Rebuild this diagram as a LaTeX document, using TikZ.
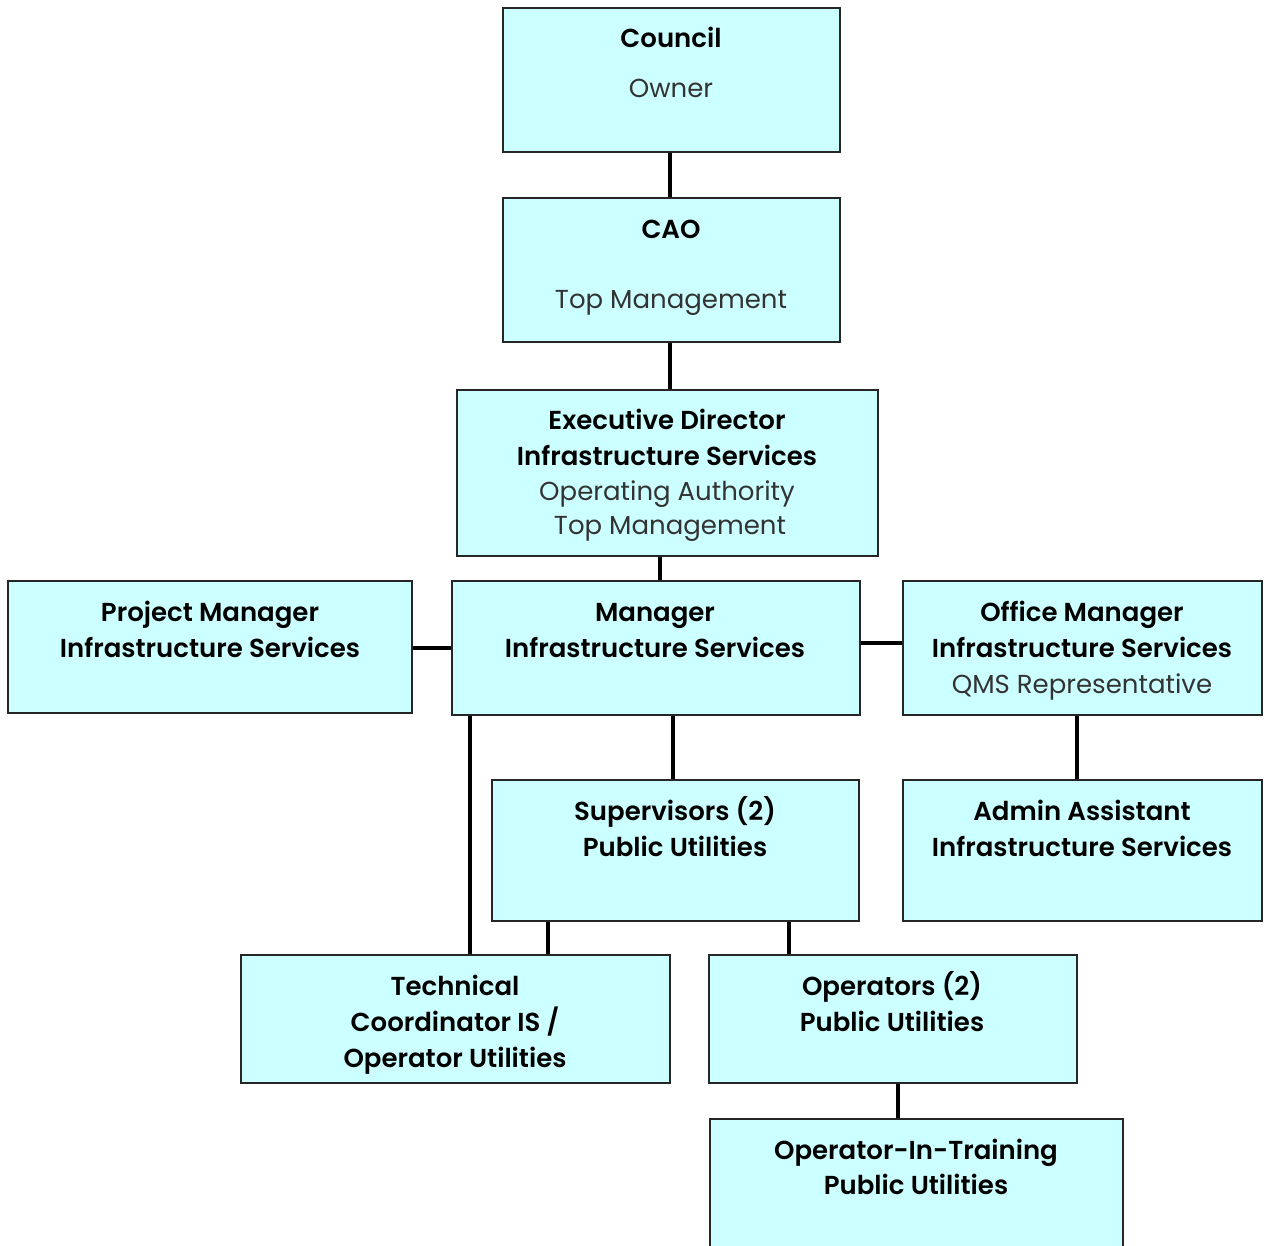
\documentclass[tikz,border=0pt]{standalone}
\usepackage{fontspec}
\setmainfont{Poppins}[BoldFont={Poppins SemiBold}]
\definecolor{boxfill}{HTML}{CCFFFF}
\definecolor{subtext}{HTML}{333333}
\begin{document}
\begin{tikzpicture}[x=1pt,y=-1pt,
  orgbox/.style={draw=black!85, line width=1.8pt, fill=boxfill, rectangle, inner sep=0pt},
  link/.style={line width=4pt, black},
  bt/.style={font=\fontsize{26}{30}\selectfont\bfseries, inner sep=0pt, anchor=base, yshift=-9pt},
  nt/.style={font=\fontsize{26}{30}\selectfont, text=subtext, inner sep=0pt, anchor=base, yshift=-9pt}]
\useasboundingbox (0,0) rectangle (1269,1245);
\newcommand{\obox}[5]{\node[orgbox, minimum width={#4-#2}, minimum height={#5-#3}] (#1) at ({(#2+#4)/2},{(#3+#5)/2}) {};}
\obox{council}{503}{8}{840}{152}
\obox{cao}{503}{198}{840}{342}
\obox{exec}{457}{390}{878}{556}
\obox{pm}{8}{581}{412}{713}
\obox{man}{452}{581}{860}{715}
\obox{office}{903}{581}{1262}{715}
\obox{sup}{492}{780}{859}{921}
\obox{admin}{903}{780}{1262}{921}
\obox{tech}{241}{955}{670}{1083}
\obox{ops}{709}{955}{1077}{1083}
\obox{oit}{710}{1119}{1123}{1262}
% texts
\node[bt] (t1) at (671,38) {Council};
\node[nt] (t2) at (671,88) {Owner};
\node[bt] (t3) at (671,229) {CAO};
\node[nt] (t4) at (671,299) {Top Management};
\node[bt] (t5) at (667,420) {Executive Director};
\node[bt] (t6) at (667,456) {Infrastructure Services};
\node[nt] (t7) at (667,491) {Operating Authority};
\node[nt] (t8) at (670,525) {Top Management};
\node[bt] (t9) at (210,612) {Project Manager};
\node[bt] (t10) at (210,648) {Infrastructure Services};
\node[bt] (t11) at (655,612) {Manager};
\node[bt] (t12) at (655,648) {Infrastructure Services};
\node[bt] (t13) at (1082,612) {Office Manager};
\node[bt] (t14) at (1082,648) {Infrastructure Services};
\node[nt] (t15) at (1082,684) {QMS Representative};
\node[bt] (t16) at (675,811) {Supervisors (2)};
\node[bt] (t17) at (675,847) {Public Utilities};
\node[bt] (t18) at (1082,811) {Admin Assistant};
\node[bt] (t19) at (1082,847) {Infrastructure Services};
\node[bt] (t20) at (455,986) {Technical};
\node[bt] (t21) at (455,1022) {Coordinator IS /};
\node[bt] (t22) at (455,1058) {Operator Utilities};
\node[bt] (t23) at (892,986) {Operators (2)};
\node[bt] (t24) at (892,1022) {Public Utilities};
\node[bt] (t25) at (916,1150) {Operator-In-Training};
\node[bt] (t26) at (916,1185) {Public Utilities};
% connectors
\coordinate (xa) at (670,0);
\coordinate (xb) at (660,0);
\coordinate (xc) at (673,0);
\coordinate (xd) at (470,0);
\coordinate (xe) at (548,0);
\coordinate (xf) at (789,0);
\coordinate (xg) at (1077,0);
\coordinate (xh) at (898,0);
\coordinate (ya) at (0,648);
\coordinate (yb) at (0,643);
\draw[link] (council.south -| xa) -- (cao.north -| xa);
\draw[link] (cao.south -| xa) -- (exec.north -| xa);
\draw[link] (exec.south -| xb) -- (man.north -| xb);
\draw[link] (pm.east |- ya) -- (man.west |- ya);
\draw[link] (man.east |- yb) -- (office.west |- yb);
\draw[link] (man.south -| xc) -- (sup.north -| xc);
\draw[link] (man.south -| xd) -- (tech.north -| xd);
\draw[link] (sup.south -| xe) -- (tech.north -| xe);
\draw[link] (sup.south -| xf) -- (ops.north -| xf);
\draw[link] (office.south -| xg) -- (admin.north -| xg);
\draw[link] (ops.south -| xh) -- (oit.north -| xh);
\end{tikzpicture}
\end{document}
